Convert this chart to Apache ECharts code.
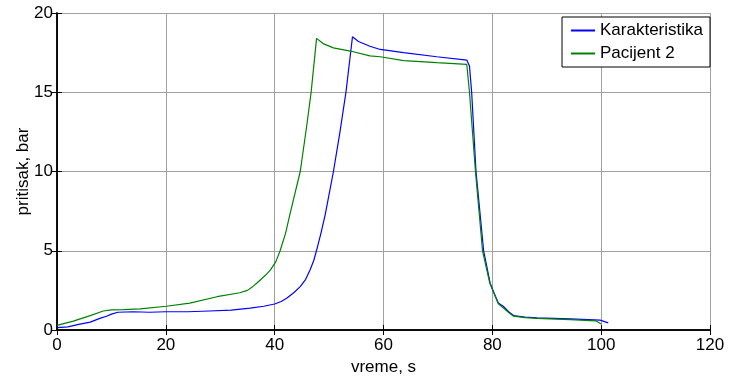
<!DOCTYPE html>
<html>
<head>
<meta charset="utf-8">
<script src="https://cdn.jsdelivr.net/npm/echarts@6/dist/echarts.min.js"></script>
<style>html,body{margin:0;padding:0;background:#fff}#c{width:729px;height:381px}</style>
</head>
<body>
<div id="c"></div>
<script>
var tBlue = [0,2,4,6.1,8,9.1,10,11.2,14,17,20,24,28,32,35.5,38,40,41.2,42.2,43.5,44.7,45.7,46.5,47.2,47.7,48.5,49.3,50.8,52,53.1,54.3,55.4,57.5,59.4,63.7,69.8,75.3,75.8,76.2,77,78.4,79.6,80.2,81.1,82,83,83.9,86,88.2,94.3,99.8,101.3];
var vBlue = [0.15,0.2,0.35,0.5,0.75,0.87,1.0,1.12,1.15,1.12,1.15,1.15,1.2,1.25,1.38,1.5,1.64,1.8,2.0,2.35,2.74,3.2,3.78,4.4,5.03,6.1,7.3,10.0,12.5,15.0,18.5,18.2,17.9,17.7,17.5,17.24,17.03,16.65,15.0,10.0,5.0,2.95,2.43,1.7,1.5,1.15,0.91,0.82,0.77,0.7,0.62,0.45];
var tGreen = [0,3,6.1,8.5,10,12.2,15.3,20.1,24.4,29.4,33.6,35,36,36.7,37.5,38.3,39.2,40.2,41,42,42.8,44.7,45.9,46.7,47.7,48.9,50.8,53.9,57.5,59.4,63.7,69.8,75.3,75.8,76.9,78.2,79.5,80.2,81.1,82,83,83.9,86,88.2,94.3,99,100];
var vGreen = [0.29,0.56,0.91,1.2,1.27,1.29,1.33,1.5,1.7,2.1,2.35,2.5,2.75,2.95,3.2,3.45,3.78,4.3,5.0,6.1,7.3,10.0,12.9,15.0,18.4,18.07,17.8,17.6,17.3,17.24,17.0,16.87,16.76,15.0,10.0,5.0,3.0,2.4,1.65,1.4,1.1,0.87,0.78,0.73,0.65,0.58,0.38];
var seriesNames = ['Karakteristika', 'Pacijent 2'];
var xTicks = [0,20,40,60,80,100,120];
var yTicks = [0,5,10,15,20];

function pairs(t, v){ return t.map(function(x,i){ return [x, v[i]]; }); }

var FONT = 'Liberation Sans, Arial, sans-serif';
var gridLine = {show:true, lineStyle:{color:'#a0a0a0', width:1}};
var tick = {show:true, inside:true, length:5, lineStyle:{color:'#000'}};
var axLine = {show:true, lineStyle:{color:'#000', width:1.5}};

var chart = echarts.init(document.getElementById('c'), null, {renderer:'canvas'});
chart.setOption({
  animation:false,
  backgroundColor:'#fff',
  grid:{left:57, right:19, top:13, bottom:47, containLabel:false},
  legend:{
    data:seriesNames, orient:'vertical', right:19, top:17,
    backgroundColor:'#fff', borderColor:'#000', borderWidth:1,
    padding:[5,7,5,9], itemGap:6, itemWidth:24, itemHeight:2, icon:'rect',
    textStyle:{fontFamily:FONT, fontSize:17, color:'#000'}
  },
  xAxis:[{
    type:'value', min:0, max:120, interval:20,
    name:'vreme, s', nameLocation:'middle', nameGap:29,
    nameTextStyle:{fontFamily:FONT, fontSize:17, color:'#000'},
    axisLine:axLine, axisTick:tick, splitLine:gridLine,
    axisLabel:{fontFamily:FONT, fontSize:17, color:'#000', margin:7,
      formatter:function(v){ return xTicks.indexOf(v) >= 0 ? String(v) : ''; }}
  },{
    type:'value', position:'top', min:0, max:120, interval:20,
    axisLine:axLine, axisTick:tick, splitLine:{show:false}, axisLabel:{show:false}
  }],
  yAxis:[{
    type:'value', min:0, max:20, interval:5,
    name:'pritisak, bar', nameLocation:'middle', nameGap:34, nameRotate:90, nameMoveOverlap:false,
    nameTextStyle:{fontFamily:FONT, fontSize:17, color:'#000', verticalAlign:'middle'},
    axisLine:axLine, axisTick:tick, splitLine:gridLine,
    axisLabel:{fontFamily:FONT, fontSize:17, color:'#000', margin:4,
      formatter:function(v){ return yTicks.indexOf(v) >= 0 ? String(v) : ''; }}
  },{
    type:'value', position:'right', min:0, max:20, interval:5,
    axisLine:axLine, axisTick:tick, splitLine:{show:false}, axisLabel:{show:false}
  }],
  series:[
    {name:seriesNames[0], type:'line', data:pairs(tBlue,vBlue), showSymbol:false, smooth:false,
     lineStyle:{color:'#0000ff', width:1.2}, itemStyle:{color:'#0000ff'}},
    {name:seriesNames[1], type:'line', data:pairs(tGreen,vGreen), showSymbol:false, smooth:false,
     lineStyle:{color:'#008000', width:1.2}, itemStyle:{color:'#008000'}}
  ]
});
</script>
</body>
</html>
